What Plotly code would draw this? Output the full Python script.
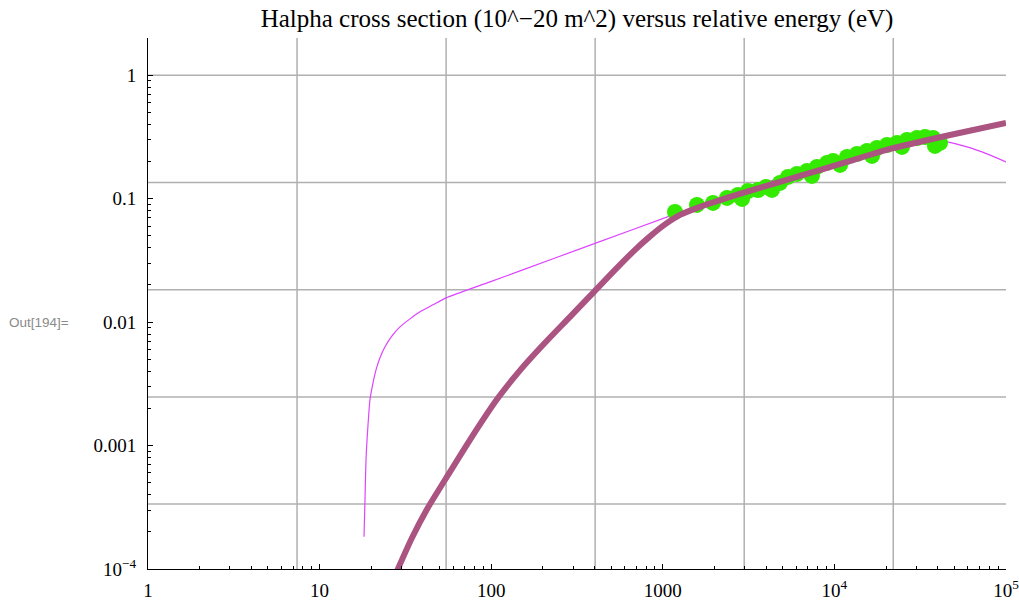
import math
import plotly.graph_objects as go

# measured data (energy in eV, cross section in 1e-20 m^2)
data_energy = [1178, 1582, 1962, 2368, 2743, 2896, 3138, 3589, 3994, 4326, 4819, 5367,
               6056, 6925, 7396, 7918, 9059, 9818, 10790, 11840, 13540, 15490, 16560,
               17710, 20260, 23170, 24770, 26500, 30300, 33720, 37560, 38550, 41250]
data_sigma = [0.0782, 0.0891, 0.0925, 0.1014, 0.1072, 0.0996, 0.1155, 0.1177, 0.1246,
              0.1178, 0.1343, 0.1502, 0.1589, 0.1680, 0.1531, 0.1808, 0.1949, 0.2023,
              0.1878, 0.2181, 0.2305, 0.2437, 0.2222, 0.2576, 0.2723, 0.2830, 0.2627,
              0.2992, 0.3105, 0.3163, 0.3105, 0.2677, 0.2830]

# thick curve (model)
model_energy = [26.42, 28.64, 34.56, 42.26, 54.53, 75.25, 108.1, 147.2, 205.8, 287.9,
                397.2, 526.6, 688.7, 842.3, 1030, 1260, 1648, 2934, 6302, 12330,
                21090, 47180, 100000]
model_sigma = [7.745e-5, 1.006e-4, 1.792e-4, 3.049e-4, 5.434e-4, 1.114e-3, 2.370e-3,
               4.070e-3, 6.800e-3, 0.01104, 0.01759, 0.02651, 0.03850, 0.04951,
               0.06190, 0.07392, 0.08582, 0.1114, 0.1530, 0.2023, 0.2530, 0.3285, 0.4110]

# thin curve (fit)
fit_energy = [18.15, 18.39, 18.64, 19.15, 19.66, 20.48, 21.32, 22.49, 24.05, 26.42,
              29.41, 33.63, 38.47, 45.80, 54.53, 98.40, 147.2, 402.6, 1147, 1648,
              2973, 6302, 12330, 24120, 29490, 36070, 44110, 59240, 77500, 100000]
fit_sigma = [1.826e-4, 3.640e-4, 7.674e-4, 1.474e-3, 2.349e-3, 3.226e-3, 4.109e-3,
             5.141e-3, 6.310e-3, 7.745e-3, 9.160e-3, 0.01063, 0.01212, 0.01381,
             0.01573, 0.02120, 0.02603, 0.04345, 0.07392, 0.08744, 0.1178, 0.1648,
             0.2181, 0.2726, 0.2938, 0.3020, 0.2911, 0.2627, 0.2306, 0.1986]

x_tickvals = [1, 10, 100, 1000, 1e4, 1e5]
x_ticktext = ["1", "10", "100", "1000", "10<sup>4</sup>", "10<sup>5</sup>"]
y_tickvals = [1e-4, 1e-3, 1e-2, 0.1, 1]
y_ticktext = ["10<sup>\u22124</sup>", "0.001", "0.01", "0.1", "1"]

x_minor = [m * 10 ** d for d in range(0, 5) for m in range(2, 10)]
y_minor = [m * 10 ** d for d in range(-4, 1) for m in range(2, 10)]

# Mathematica style grid at powers of e
x_grid = [math.e ** k for k in (2, 4, 6, 8, 10)]
y_grid = [math.e ** k for k in (0, -2, -4, -6, -8)]

fig = go.Figure()

fig.add_trace(go.Scatter(
    x=fit_energy, y=fit_sigma, mode="lines",
    line=dict(color="#dd44ff", width=1.2, shape="spline", smoothing=0.6),
    hoverinfo="skip", showlegend=False,
))
fig.add_trace(go.Scatter(
    x=data_energy, y=data_sigma, mode="markers",
    marker=dict(color="#33ea00", size=16, line=dict(width=0)),
    showlegend=False,
))
fig.add_trace(go.Scatter(
    x=model_energy, y=model_sigma, mode="lines",
    line=dict(color="#ab5482", width=6, shape="spline", smoothing=0.6),
    showlegend=False,
))

shapes = []
for gx in x_grid:
    shapes.append(dict(type="line", xref="x", yref="paper", x0=gx, x1=gx, y0=0, y1=1,
                       line=dict(color="#b0b0b0", width=1.5), layer="below"))
for gy in y_grid:
    shapes.append(dict(type="line", xref="paper", yref="y", x0=0, x1=1, y0=gy, y1=gy,
                       line=dict(color="#b0b0b0", width=1.5), layer="below"))

tick_font = dict(family="Liberation Serif", size=19, color="black")

fig.update_layout(
    width=1019, height=601,
    margin=dict(l=148, r=13, t=38, b=32, autoexpand=False),
    paper_bgcolor="white", plot_bgcolor="white",
    font=dict(family="Liberation Serif", size=19, color="black"),
    title=dict(text="Halpha cross section (10^\u221220 m^2) versus relative energy (eV)",
               x=0.5, xref="paper", y=1 - 18 / 601, yref="container",
               xanchor="center", yanchor="middle", automargin=False,
               font=dict(family="Liberation Serif", size=25, color="black")),
    xaxis=dict(type="log", range=[0, 5], showgrid=False, zeroline=False,
               automargin=False, ticklabeloverflow="allow",
               showline=True, linecolor="black", linewidth=1,
               tickmode="array", tickvals=x_tickvals, ticktext=x_ticktext,
               tickfont=tick_font, ticklabelstandoff=4,
               ticks="inside", ticklen=5, tickcolor="black",
               minor=dict(tickmode="array", tickvals=x_minor, ticks="inside",
                          ticklen=3, tickcolor="black", showgrid=False)),
    yaxis=dict(type="log", range=[-4, 0.302], showgrid=False, zeroline=False,
               automargin=False, ticklabeloverflow="allow",
               showline=True, linecolor="black", linewidth=1,
               tickmode="array", tickvals=y_tickvals, ticktext=y_ticktext,
               tickfont=tick_font, ticklabelstandoff=7,
               ticks="inside", ticklen=5, tickcolor="black",
               minor=dict(tickmode="array", tickvals=y_minor, ticks="inside",
                          ticklen=3, tickcolor="black", showgrid=False)),
    shapes=shapes,
    annotations=[dict(text="Out[194]=", xref="paper", yref="paper",
                      x=-141 / 858, y=(569 - 322) / 531,
                      xanchor="left", yanchor="middle", showarrow=False,
                      font=dict(family="Liberation Sans", size=13.5, color="#8a8a8a"))],
)

fig.write_html("out.html", config={"displayModeBar": False},
               post_script="document.body.style.margin='0';")
